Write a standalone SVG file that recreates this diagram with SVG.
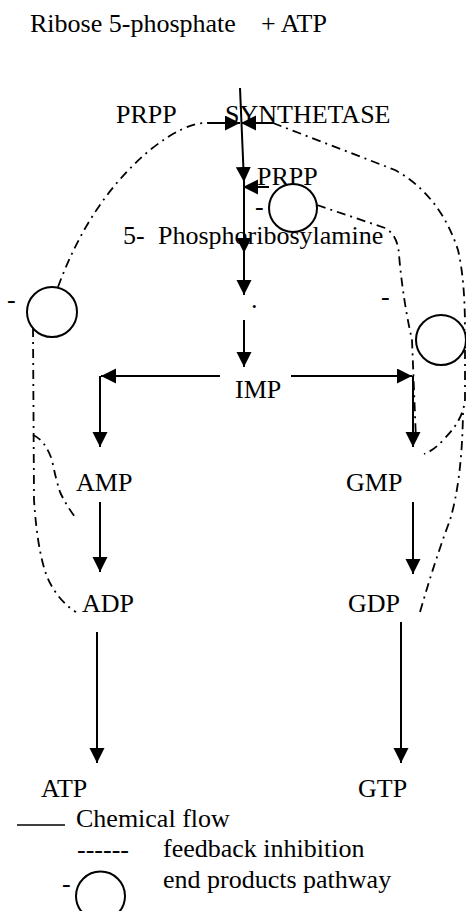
<svg xmlns="http://www.w3.org/2000/svg" width="466" height="911" viewBox="0 0 466 911">
<style>
text{font-family:"Liberation Serif","Times New Roman","DejaVu Serif",serif;font-size:26px;fill:#000}
.flow{fill:none;stroke:#000;stroke-width:2;marker-end:url(#ah)}
.fb{fill:none;stroke:#000;stroke-width:1.8;stroke-dasharray:9 5 2 5}
.inh{fill:none;stroke:#000;stroke-width:2}
</style>
<defs>
<marker id="ah" markerUnits="userSpaceOnUse" markerWidth="16" markerHeight="16" refX="15" refY="7.5" orient="auto"><path d="M0,0 L15,7.5 L0,15 z" fill="#000"/></marker>
</defs>
<rect width="466" height="911" fill="#fff"/>
<g id="substrates"><text x="30" y="31.5">Ribose 5-phosphate</text><text x="261" y="31.5">+ ATP</text></g>
<g id="prpp-synthetase"><text x="116" y="123">PRPP</text><text x="225" y="123">SYNTHETASE</text></g>
<g id="prpp"><text x="257" y="185">PRPP</text></g>
<g id="phosphoribosylamine"><text x="123" y="244">5-</text><text x="158" y="244">Phosphoribosylamine</text></g>
<g id="intermediate"><text x="251" y="308">.</text></g>
<g id="imp"><text x="235" y="398">IMP</text></g>
<g id="amp"><text x="76" y="491">AMP</text></g>
<g id="gmp"><text x="346" y="491">GMP</text></g>
<g id="adp"><text x="82" y="612">ADP</text></g>
<g id="gdp"><text x="348" y="612">GDP</text></g>
<g id="atp"><text x="41" y="797">ATP</text></g>
<g id="gtp"><text x="358" y="797">GTP</text></g>
<g id="inhibitor-left"><circle class="inh" cx="52" cy="312" r="25"/><text x="7" y="308">-</text></g>
<g id="inhibitor-top"><circle class="inh" cx="293" cy="208" r="24"/><text x="255" y="215">-</text></g>
<g id="inhibitor-right"><circle class="inh" cx="441" cy="340" r="25"/><text x="381" y="305">-</text></g>
<g id="connectors">
<path class="flow" d="M240,88 L244,182"/>
<path class="flow" d="M244,182 L244,253"/>
<path class="flow" d="M244,253 L244,295"/>
<path class="flow" d="M244,320 L244,367"/>
<path class="flow" d="M208,123 L240,123"/>
<path class="flow" d="M273,123 L241,123"/>
<path class="flow" d="M269,187 L243,187"/>
<path class="flow" d="M220,376 L101,376"/>
<path class="flow" d="M100,376 L100,447"/>
<path class="flow" d="M291,376 L412,376"/>
<path class="flow" d="M413,376 L413,447"/>
<path class="flow" d="M100,502 L100,572"/>
<path class="flow" d="M413,502 L413,574"/>
<path class="flow" d="M97,632 L97,763"/>
<path class="flow" d="M401,622 L401,763"/>
<path class="fb" d="M58,287 Q90,200 150,150 Q185,122 208,123"/>
<path class="fb" d="M273,123 L395,170 Q440,195 458,250 Q465,280 465,330"/>
<path class="fb" d="M317,205 L385,228 Q398,235 399,255 Q403,300 412,340 L416,440"/>
<path class="fb" d="M465,350 L465,400 Q463,420 445,438 Q435,450 424,454"/>
<path class="fb" d="M420,612 Q435,560 450,520 Q462,480 463,413"/>
<path class="fb" d="M33,328 L34,500 Q38,560 50,583 Q60,602 76,612"/>
<path class="fb" d="M33,435 Q45,440 52,460 Q56,480 60,492 Q66,505 75,517"/>
</g>
<g id="legend">
<line x1="17" y1="825" x2="65" y2="825" stroke="#000" stroke-width="1.5"/>
<text x="76" y="827">Chemical flow</text>
<text x="77" y="858">------</text>
<text x="163" y="857">feedback inhibition</text>
<text x="62" y="892">-</text>
<circle class="inh" cx="100.5" cy="896" r="24.5"/>
<text x="163" y="888">end products pathway</text>
</g>
</svg>
